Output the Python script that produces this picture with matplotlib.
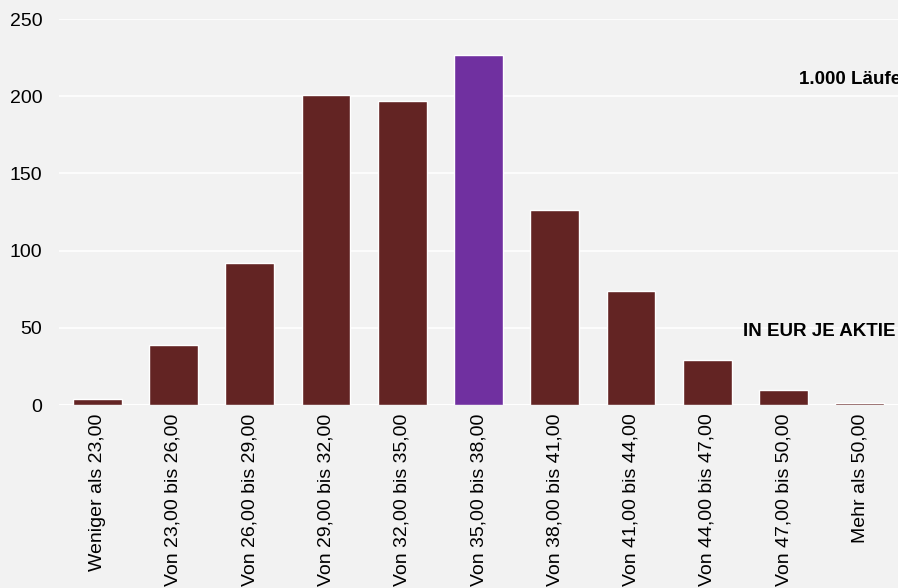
import matplotlib.pyplot as plt
import numpy as np

plt.rcParams['font.family'] = ['Liberation Sans', 'DejaVu Sans']

# Kursbereiche (EUR je Aktie) und Häufigkeit aus 1.000 Läufen
kategorien = ['Weniger als 23,00', 'Von 23,00 bis 26,00', 'Von 26,00 bis 29,00',
              'Von 29,00 bis 32,00', 'Von 32,00 bis 35,00', 'Von 35,00 bis 38,00',
              'Von 38,00 bis 41,00', 'Von 41,00 bis 44,00', 'Von 44,00 bis 47,00',
              'Von 47,00 bis 50,00', 'Mehr als 50,00']
haeufigkeit = [4, 39, 92, 201, 197, 227, 126, 74, 29, 10, 1]
hervorgehoben = 5
yticks = [0, 50, 100, 150, 200, 250]

bg = '#f2f2f2'
farben = ['#632423'] * len(kategorien)
farben[hervorgehoben] = '#7030a0'

fig = plt.figure(figsize=(8.98, 5.88), dpi=100, facecolor=bg)
ax = fig.add_axes([59/898, 183/588, 839/898, 386/588], facecolor=bg)

x = np.arange(len(kategorien))
ax.bar(x, haeufigkeit, width=0.64, color=farben, edgecolor='white',
       linewidth=1, zorder=3)

ax.set_xlim(-0.5, len(kategorien) - 0.5)
ax.set_ylim(0, 250)
ax.set_yticks(yticks)
ax.set_xticks(x)
ax.set_xticklabels(kategorien, rotation=90, fontsize=14)
ax.tick_params(axis='y', length=0, pad=12, labelsize=14)
ax.tick_params(axis='x', length=0, pad=6)
ax.yaxis.grid(True, color='white', linewidth=1.2, zorder=0)
for s in ax.spines.values():
    s.set_visible(False)
ax.axhline(0, color='white', linewidth=1.5, zorder=2)

fig.text(799/898, 1 - 80/588, '1.000 Läufe', fontsize=13.5, fontweight='bold',
         va='center', ha='left')
fig.text(743/898, 1 - 332/588, 'IN EUR JE AKTIE', fontsize=13.5, fontweight='bold',
         va='center', ha='left')

fig.savefig('out.png', dpi=100, facecolor=bg)
